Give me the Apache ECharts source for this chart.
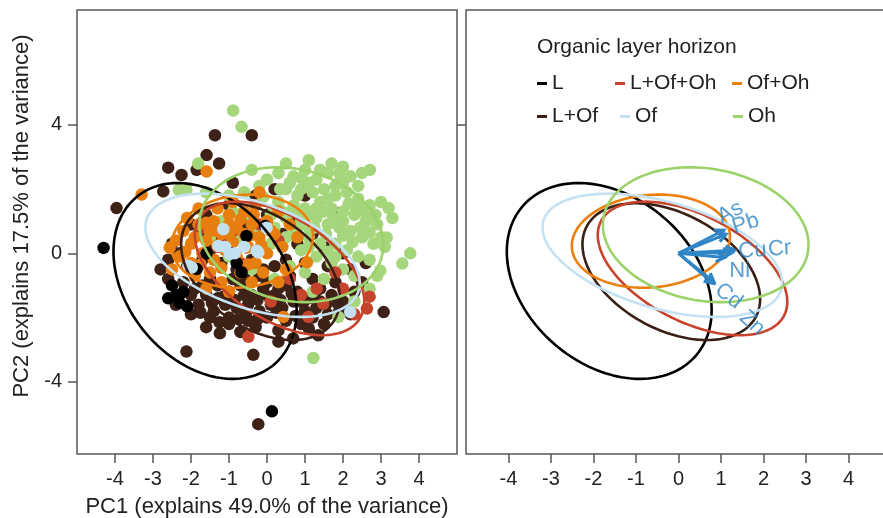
<!DOCTYPE html>
<html>
<head>
<meta charset="utf-8">
<script src="https://cdn.jsdelivr.net/npm/echarts@6/dist/echarts.min.js"></script>
<style>html,body{margin:0;padding:0;background:#fff;}#c{width:883px;height:518px;}</style>
</head>
<body>
<div id="c"></div>
<script>
// ---------- data ----------
const groups = ['L', 'L+Of', 'L+Of+Oh', 'Of+Oh', 'Of', 'Oh'];
const xTicks = [-4, -3, -2, -1, 0, 1, 2, 3, 4];
const yTicks = [-4, 0, 4];

// PCA scores (PC1, PC2) per organic layer horizon
const ptsLOf = [
  [-1.37,3.68],[-0.40,3.68],[-1.59,3.06],[-1.26,2.80],[-2.60,2.67],[-2.25,2.44],[-1.85,2.60],[-2.73,1.93],[-3.96,1.41],[1.92,1.26],
  [3.07,-1.83],[-2.12,-3.06],[-0.36,-3.16],[-0.23,-5.32],[0.30,-2.75],[0.69,-2.65],[1.35,-2.55],[-1.24,-2.49],[-1.0,-2.2],[-1.6,-2.3],[-0.7,-2.45],
  [-2.5,0.3],[-2.3,0.0],[-2.6,-0.2],[-2.1,-0.4],[-1.8,0.6],[-2.0,0.9],[-1.7,-0.2],[-1.5,0.1],[-1.2,-0.3],[-0.8,-0.5],[-0.4,-0.2],[-0.2,-0.7],
  [0.2,-0.4],[0.5,-0.2],[0.8,0.3],[0.4,0.6],[-0.6,0.9],[0.0,1.2],[-1.0,1.5],[-1.6,1.2],
  [-2.2,-0.9],[-1.9,-1.1],[-1.6,-1.3],[-1.3,-1.0],[-1.0,-1.2],[-0.7,-1.0],[-0.4,-1.3],[-0.1,-1.1],[0.2,-1.3],[0.5,-1.0],[0.8,-1.2],[1.1,-1.4],
  [1.4,-1.1],[1.7,-1.3],[2.0,-1.5],[2.3,-1.2],[-1.8,-1.6],[-1.4,-1.8],[-1.1,-1.6],[-0.8,-1.7],[-0.5,-1.6],[-0.2,-1.8],[0.1,-1.6],[0.4,-1.7],
  [0.7,-1.5],[1.0,-1.8],[1.3,-1.7],[1.6,-1.9],[1.9,-1.8],[2.2,-1.9],[-1.5,-2.0],[-1.0,-2.0],[-0.5,-2.1],[0.0,-2.0],[0.5,-2.1],[0.9,-2.2],
  [1.5,-2.2],[-2.3,-1.3],[-0.9,-0.8],[0.0,-0.9],[0.6,-0.7],[1.2,-0.8],[1.8,-0.9],[2.5,-0.9],[2.2,-0.5],[1.6,-0.4],[1.0,-0.3],[-2.0,-1.9],
  [-2.4,-1.6],[0.3,-2.4],[-0.3,-2.3],[1.2,-2.0],[1.2,0.6],[2.0,0.0],[1.5,0.2],[2.6,-0.3],[0.6,1.0],[1.0,1.8],[0.2,2.0],[-0.3,1.8],[-0.9,2.2],
  [-2.6,-0.8],[-2.8,-0.5],[-1.3,-1.4],[-0.6,-1.3],[0.3,-1.1],[1.4,-1.5],[-1.9,-0.5],[-1.3,0.5],
  [-2.0,-1.3],[-1.7,-1.0],[-1.45,-1.55],[-1.15,-1.35],[-0.85,-1.45],[-0.55,-1.85],[-0.25,-1.45],[0.05,-1.35],[0.35,-1.45],[0.65,-1.25],
  [0.95,-1.55],[1.25,-1.25],[1.55,-1.6],[1.85,-1.55],[2.1,-1.7],[-1.75,-1.85],[-1.25,-2.15],[-0.75,-2.05],[-0.25,-2.05],[0.25,-1.85],
  [0.75,-1.95],[1.1,-2.35],[-0.1,-0.5],[-0.6,-0.7],[0.4,-0.9],[-1.5,-0.8]
];
const ptsOh = [
  [-0.89,4.45],[-0.67,3.94],[-1.81,2.80],[2.71,2.60],[3.20,1.41],[3.15,0.49],[2.98,-0.54],[1.88,-1.98],[3.77,0.0],[3.56,-0.32],[1.22,-3.26],
  [-2.12,1.98],[-2.32,1.98],
  [0.0,2.3],[0.3,2.5],[0.7,2.4],[1.0,2.6],[1.3,2.3],[1.6,2.5],[1.9,2.2],[2.2,2.4],[0.5,2.0],[0.9,2.0],[1.2,1.9],[1.5,2.0],[1.8,1.8],
  [2.1,1.9],[2.4,1.7],[2.7,1.5],[0.3,1.6],[0.7,1.5],[1.0,1.4],[1.4,1.6],[1.7,1.4],[2.0,1.3],[2.3,1.2],[2.6,1.0],[2.9,0.9],[0.5,1.1],
  [0.9,1.0],[1.3,1.1],[1.6,0.9],[1.9,0.8],[2.2,0.7],[2.5,0.5],[2.8,0.3],[3.1,0.2],[0.2,0.8],[0.7,0.6],[1.1,0.5],[1.4,0.3],[1.8,0.3],
  [2.1,0.1],[2.4,-0.1],[2.7,-0.2],[0.4,0.2],[0.9,0.1],[1.3,-0.1],[1.7,-0.3],[2.0,-0.5],[2.3,-0.7],[1.0,-0.6],[1.5,-0.8],[0.6,-0.4],
  [-0.3,1.5],[-0.6,1.9],[-0.2,2.1],[-0.5,1.2],[-0.9,1.3],[-1.2,1.0],[-0.8,0.4],[-0.3,0.6],[0.1,0.3],[-1.5,0.5],[-1.0,-0.1],[0.2,-0.8],
  [-0.4,-0.5],[1.2,-1.2],[2.3,-1.5],[2.7,-1.1],[3.3,1.1],[3.0,1.6],[2.4,2.1],[1.1,2.9],[0.5,2.8],[-0.4,2.6],[1.7,2.8],[2.0,2.7],
  [0.1,1.2],[0.8,1.8],[1.2,1.2],[1.5,1.3],[2.0,1.0],[1.8,2.1],[2.5,1.4],[1.1,0.8],[0.4,1.3],[-1.6,1.9],[-1.0,1.8],
  [0.6,2.2],[1.1,2.2],[1.4,2.6],[2.0,2.2],[2.3,1.5],[1.6,1.7],[1.3,1.4],[0.9,1.25],[1.75,1.1],[2.15,1.55],[2.6,1.25],[2.85,1.2],
  [2.45,0.8],[2.0,0.55],[1.55,0.6],[1.25,0.8],[0.8,0.8],[0.5,0.5],[1.6,0.05],[2.25,0.35],[2.7,0.65],[3.0,0.5],[2.9,-0.7],[1.8,-0.1],
  [1.1,0.2],[0.65,1.3],[0.35,2.0],[1.9,2.5],[2.5,2.5],[0.9,2.35],[-0.1,1.75]
];
const ptsLOfOh = [
  [-1.15,0.39],[-0.54,0.18],[1.31,-1.1],[1.48,-1.57],[2.63,-1.72],[1.09,-1.98],[-0.49,-2.60],[-0.9,0.7],[-1.3,0.2],[-0.7,-0.3],
  [0.3,0.4],[-0.2,0.9],[0.6,-0.8],[2.0,-1.1],[2.3,-1.9],[1.8,-0.6],[0.9,-1.3],[-1.7,0.8],[0.1,-1.5],[2.7,-1.35]
];
const ptsOfOh = [
  [-1.59,2.55],[-3.30,1.83],[1.05,-0.28],[0.43,-1.98],
  [-2.4,0.4],[-2.2,0.7],[-2.0,0.3],[-1.8,0.9],[-1.6,0.4],[-1.4,1.0],[-1.2,0.6],[-1.0,1.2],[-0.8,0.8],[-0.6,1.3],[-0.4,0.9],[-0.2,0.5],
  [0.0,1.0],[0.2,0.6],[0.4,0.2],[-2.3,-0.1],[-2.0,-0.3],[-1.7,0.0],[-1.4,-0.2],[-1.1,0.1],[-0.8,-0.1],[-0.5,0.2],[-0.3,-0.3],[0.0,0.0],
  [-1.9,-0.7],[-1.5,-0.6],[-1.2,-0.9],[-0.7,-0.6],[-0.4,-0.9],[-2.5,-0.5],[-1.3,1.4],[-0.9,1.6],[-0.3,1.5],[0.3,1.3],[0.6,0.9],[-1.8,1.4],
  [-2.1,1.1],[-0.1,-0.6],[0.5,-0.5],[-1.0,-1.2],[0.8,0.5],[-1.6,-1.1],[0.3,-0.9],[-0.6,0.6],[-1.0,0.6],[-1.5,0.7],[-2.56,0.18],[-0.2,1.9],
  [-1.9,0.5],[-1.6,0.95],[-1.3,0.25],[-1.0,0.9],[-0.7,1.05],[-0.45,0.55],[-0.15,0.25],[-0.9,0.35],[-1.2,-0.45],[-1.75,-0.35],
  [-2.15,0.05],[-0.5,-0.35],[0.1,0.7],[-1.35,0.7],[-0.35,1.2]
];
const ptsL = [
  [-4.30,0.17],[0.13,-4.92],[-2.5,-1.0],[-2.4,-1.3],[-2.6,-1.4],[-2.3,-1.55],[-2.1,-1.65],[-0.54,0.54],[-1.59,0.0],[-0.67,-0.59],
  [-0.9,0.0],[-1.85,-0.49],[-0.05,0.85],[-2.2,-1.2],[-0.8,-0.3]
];
const ptsOf = [
  [-1.15,0.75],[-1.28,0.23],[-0.98,-0.02],[-0.85,0.0],[-0.23,0.03],[-0.01,0.80],[-2.07,-0.39],[2.19,-1.83],[-1.98,-0.44],[-0.27,0.08],
  [-1.1,0.2],[-0.6,0.2]
];

// 95% ellipses: centre, half-width (PC1), half-height (PC2), correlation
const ellGroup = ['L', 'L+Of', 'L+Of+Oh', 'Of+Oh', 'Of', 'Oh'];
const ellCx = [-1.63, -0.17, 0.33, -0.65, -0.38, 0.64];
const ellCy = [-0.86, -0.57, -0.47, 0.38, -0.06, 0.58];
const ellW  = [2.41, 2.09, 2.23, 1.86, 2.82, 2.42];
const ellH  = [3.05, 2.13, 2.08, 1.45, 1.92, 2.10];
const ellR  = [-0.30, -0.40, -0.50, 0.10, -0.45, -0.15];

// variable loadings (biplot arrows)
const varNames = ['As', 'Pb', 'Cu', 'Cr', 'Ni', 'Cd', 'Zn'];
const varX = [1.07, 1.12, 1.32, 1.26, 1.09, 0.82, 0.84];
const varY = [0.72, 0.60, 0.10, 0.02, -0.13, -0.94, -0.90];
const varLabelX = [1.22, 1.58, 1.74, 2.38, 1.44, 1.18, 1.73];
const varLabelY = [1.27, 0.92, 0.08, 0.14, -0.56, -1.33, -2.17];
const varLabelRot = [28, 18, 4, 4, 0, -38, -42];

// ---------- styling ----------
const ptColors   = {'L':'#000000','L+Of':'#3e2217','L+Of+Oh':'#c5442c','Of+Oh':'#e67e10','Of':'#c3e0f1','Oh':'#a6d67b'};
const lineColors = {'L':'#000000','L+Of':'#3a1f15','L+Of+Oh':'#c8432b','Of+Oh':'#ea7f0e','Of':'#c4e2f3','Oh':'#9bd26a'};
const blue = '#2f86c6';
const FONT = 'Liberation Sans, Arial, sans-serif';
const axisCol = '#555';
const txtCol = '#222';

const chart = echarts.init(document.getElementById('c'), null, {renderer:'canvas'});

function xAxisCfg(gi, name) {
  return {
    type:'value', gridIndex:gi, min:-5, max:5, position:'bottom',
    axisLine:{show:false, onZero:false}, splitLine:{show:false},
    axisTick:{show:true, customValues:xTicks, length:9, lineStyle:{color:axisCol, width:1.5}},
    axisLabel:{show:true, customValues:xTicks, margin:15, fontSize:20, color:txtCol, fontFamily:FONT},
    name:name, nameLocation:'middle', nameGap:42,
    nameTextStyle:{fontSize:22, color:txtCol, fontFamily:FONT}
  };
}
function yAxisCfg(gi, ticks, showLabel) {
  return {
    type:'value', gridIndex:gi, min:-6.25, max:7.58, position:'left',
    axisLine:{show:false, onZero:false}, splitLine:{show:false},
    axisTick:{show:true, customValues:ticks, length:9, lineStyle:{color:axisCol, width:1.5}},
    axisLabel:{show:showLabel, customValues:ticks, margin:15, fontSize:20, color:txtCol, fontFamily:FONT}
  };
}

const ptsByGroup = {'L':ptsL,'L+Of':ptsLOf,'L+Of+Oh':ptsLOfOh,'Of+Oh':ptsOfOh,'Of':ptsOf,'Oh':ptsOh};
const drawOrder = ['L+Of','Oh','L+Of+Oh','Of+Oh','L','Of'];

const series = [];
drawOrder.forEach(g => {
  series.push({
    type:'scatter', name:g, xAxisIndex:0, yAxisIndex:0, data:ptsByGroup[g],
    symbol:'circle', symbolSize:12.5, itemStyle:{color:ptColors[g], opacity:1},
    silent:true, z:2
  });
});

function ellipseSeries(i, gi) {
  const col = lineColors[ellGroup[i]];
  return {
    type:'custom', name:ellGroup[i], xAxisIndex:gi, yAxisIndex:gi, silent:true, z:3,
    itemStyle:{color:col},
    data:[[ellCx[i], ellCy[i]]],
    renderItem:function(params, api){
      const pts = [];
      const r = ellR[i], s = Math.sqrt(1 - r*r);
      for (let k = 0; k <= 160; k++) {
        const t = k / 160 * 2 * Math.PI;
        const x = ellCx[i] + ellW[i] * Math.cos(t);
        const y = ellCy[i] + ellH[i] * (r * Math.cos(t) + s * Math.sin(t));
        pts.push(api.coord([x, y]));
      }
      return {type:'polyline', shape:{points:pts}, style:{fill:null, stroke:col, lineWidth:2.6}};
    }
  };
}
[0,1].forEach(gi => { for (let i = 0; i < ellGroup.length; i++) series.push(ellipseSeries(i, gi)); });

// arrows
series.push({
  type:'custom', name:'loadings', xAxisIndex:1, yAxisIndex:1, silent:true, z:5,
  data:varX.map((x,i)=>[x, varY[i]]),
  renderItem:function(params, api){
    const p0 = api.coord([0,0]);
    const p1 = api.coord([api.value(0), api.value(1)]);
    const a = Math.atan2(p1[1]-p0[1], p1[0]-p0[0]);
    const L = 10, sp = 0.5;
    const h1 = [p1[0]-L*Math.cos(a-sp), p1[1]-L*Math.sin(a-sp)];
    const h2 = [p1[0]-L*Math.cos(a+sp), p1[1]-L*Math.sin(a+sp)];
    return {type:'group', children:[
      {type:'line', shape:{x1:p0[0], y1:p0[1], x2:p1[0], y2:p1[1]}, style:{stroke:blue, lineWidth:3}},
      {type:'polyline', shape:{points:[h1, p1, h2]}, style:{stroke:blue, lineWidth:3, fill:null}}
    ]};
  }
});
series.push({
  type:'scatter', name:'varLabels', xAxisIndex:1, yAxisIndex:1, silent:true, z:6, symbolSize:0,
  data:varNames.map((n,i)=>({name:n, value:[varLabelX[i], varLabelY[i]], label:{rotate:varLabelRot[i]}})),
  label:{show:true, position:'inside', formatter:'{b}', color:blue, fontSize:22, fontFamily:FONT}
});

const legendX = {'L':537,'L+Of+Oh':615,'Of+Oh':732,'L+Of':537,'Of':620,'Oh':733};
const legendY = {'L':73,'L+Of+Oh':73,'Of+Oh':73,'L+Of':106,'Of':106,'Oh':106};

const option = {
  animation:false,
  backgroundColor:'#fff',
  textStyle:{fontFamily:FONT},
  title:{text:'Organic layer horizon', left:537, top:37, padding:0,
    textStyle:{fontSize:21, fontWeight:'normal', color:txtCol, fontFamily:FONT}},
  legend: groups.map(g => ({
    data:[{name:g, itemStyle:{color:lineColors[g]}}],
    left:legendX[g], top:legendY[g], padding:0, icon:'rect', itemWidth:10, itemHeight:3,
    selectedMode:false, textStyle:{fontSize:21, color:txtCol, fontFamily:FONT}
  })),
  grid:[
    {left:77, top:10, width:380, height:444, show:true, borderColor:axisCol, borderWidth:1.5,
     backgroundColor:'transparent', outerBoundsMode:'none', containLabel:false},
    {left:466, top:10, width:425, height:444, show:true, borderColor:axisCol, borderWidth:1.5,
     backgroundColor:'transparent', outerBoundsMode:'none', containLabel:false}
  ],
  xAxis:[xAxisCfg(0, 'PC1 (explains 49.0% of the variance)'), xAxisCfg(1, '')],
  yAxis:[yAxisCfg(0, yTicks, true), yAxisCfg(1, [4], false)],
  graphic:[{
    type:'text', x:22, y:216, rotation:Math.PI/2,
    style:{text:'PC2 (explains 17.5% of the variance)', fontSize:22, fill:txtCol, fontFamily:FONT,
      textAlign:'center', textVerticalAlign:'middle'}
  }],
  series:series
};
chart.setOption(option);
</script>
</body>
</html>
